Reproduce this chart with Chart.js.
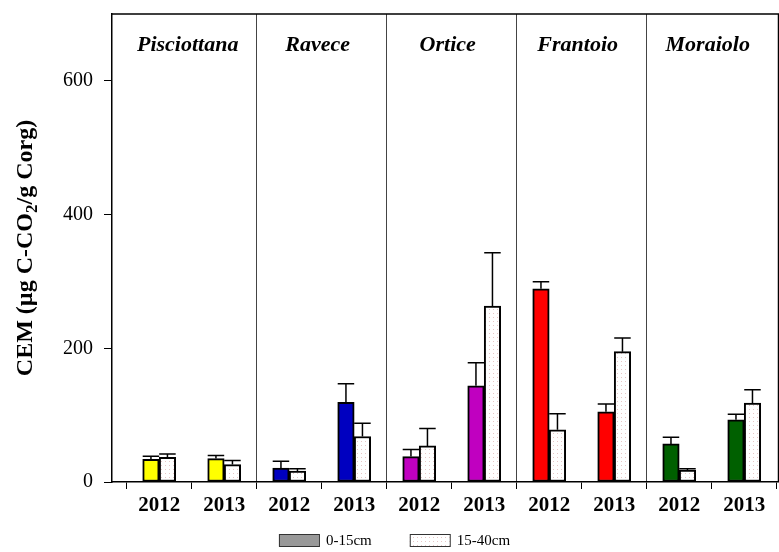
<!DOCTYPE html>
<html>
<head>
<meta charset="utf-8">
<script src="https://cdn.jsdelivr.net/npm/chart.js@4"></script>
<style>
  html, body { margin: 0; padding: 0; background: #fff; }
</style>
</head>
<body>
<canvas id="chart" width="779" height="552"></canvas>
<script>
// Cultivars, sampling years and soil depths
const cultivars = ['Pisciottana', 'Ravece', 'Ortice', 'Frantoio', 'Moraiolo'];
const years = ['2012', '2013'];
const depthLabels = ['0-15cm', '15-40cm'];
const cultivarColors = ['#ffff00', '#0000c0', '#c000c0', '#ff0000', '#006000'];

// CEM values, one per cultivar/year slot (Pisciottana 2012, Pisciottana 2013, Ravece 2012, ...)
const cemTop = [34, 35, 21, 119, 38, 144, 289, 105, 57, 93];
const cemTopErr = [4.5, 4.5, 10, 28, 10.5, 34.5, 10.5, 11.5, 10, 8.5];
const cemDeep = [37, 26, 16.5, 68, 54, 263, 78, 195, 18, 118];
const cemDeepErr = [5, 6, 3.5, 20, 26, 80, 24, 20.5, 2, 20];

const yTicks = [0, 200, 400, 600];

const serif = "'Liberation Serif', 'Times New Roman', serif";

// light dotted fill used for the deeper layer
function dotPattern() {
    const c = document.createElement('canvas');
    c.width = 4; c.height = 4;
    const g = c.getContext('2d');
    g.fillStyle = '#ffffff';
    g.fillRect(0, 0, 4, 4);
    g.fillStyle = '#e6c6c6';
    g.fillRect(1, 1, 1, 1);
    return g.createPattern(c, 'repeat');
}
const dots = dotPattern();

const slotLabels = cultivars.flatMap(() => years);
const slotColors = cultivars.flatMap((c, i) => [cultivarColors[i], cultivarColors[i]]);
const legendFills = ['#999999', dots];

const toPoints = values => values.map((v, i) => ({ x: i + 0.5, y: v }));

// upward error bars with caps
const errorBars = {
    id: 'errorBars',
    afterDatasetsDraw(chart) {
        const ctx = chart.ctx;
        const yScale = chart.scales.y;
        ctx.save();
        ctx.strokeStyle = '#000';
        ctx.lineWidth = 1.5;
        chart.data.datasets.forEach((ds, di) => {
            chart.getDatasetMeta(di).data.forEach((bar, i) => {
                const top = yScale.getPixelForValue(ds.data[i].y + ds.errors[i]);
                const half = bar.width / 2;
                ctx.beginPath();
                ctx.moveTo(bar.x, bar.y);
                ctx.lineTo(bar.x, top);
                ctx.moveTo(bar.x - half, top);
                ctx.lineTo(bar.x + half, top);
                ctx.stroke();
            });
        });
        ctx.restore();
    }
};

// frame, cultivar names, axis title and legend
const decorations = {
    id: 'decorations',
    afterDraw(chart) {
        const ctx = chart.ctx;
        const area = chart.chartArea;
        const xScale = chart.scales.x;
        ctx.save();

        ctx.strokeStyle = '#000';
        ctx.lineWidth = 1.5;
        ctx.beginPath();
        ctx.moveTo(area.left, area.top);
        ctx.lineTo(area.right - 0.5, area.top);
        ctx.lineTo(area.right - 0.5, area.bottom);
        ctx.stroke();

        ctx.fillStyle = '#000';
        ctx.font = 'italic bold 22px ' + serif;
        ctx.textAlign = 'center';
        ctx.textBaseline = 'middle';
        cultivars.forEach((name, i) => {
            ctx.fillText(name, xScale.getPixelForValue(2 * i + 1) - 4, area.top + 31);
        });

        // rotated y title with subscript
        const parts = [
            { t: 'CEM (\u00b5g C-CO', f: 'bold 24px ' + serif, dy: 0 },
            { t: '2', f: 'bold 17px ' + serif, dy: 7 },
            { t: '/g Corg)', f: 'bold 24px ' + serif, dy: 0 }
        ];
        let total = 0;
        parts.forEach(p => { ctx.font = p.f; p.w = ctx.measureText(p.t).width; total += p.w; });
        ctx.translate(26, (area.top + area.bottom) / 2);
        ctx.rotate(-Math.PI / 2);
        ctx.textAlign = 'left';
        let px = -total / 2;
        parts.forEach(p => {
            ctx.font = p.f;
            ctx.fillText(p.t, px, p.dy);
            px += p.w;
        });
        ctx.setTransform(1, 0, 0, 1, 0, 0);

        // legend
        ctx.font = '15px ' + serif;
        const boxW = 40, boxH = 12, gap = 7, itemGap = 38;
        const widths = depthLabels.map(t => ctx.measureText(t).width);
        const full = widths.reduce((a, w) => a + boxW + gap + w, 0) + itemGap * (depthLabels.length - 1);
        let lx = (chart.width - full) / 2 + 5;
        const ly = 540;
        depthLabels.forEach((t, i) => {
            ctx.fillStyle = legendFills[i];
            ctx.fillRect(lx, ly - boxH / 2, boxW, boxH);
            ctx.strokeStyle = '#333';
            ctx.lineWidth = 1;
            ctx.strokeRect(lx + 0.5, ly - boxH / 2 + 0.5, boxW, boxH);
            ctx.fillStyle = '#000';
            ctx.fillText(t, lx + boxW + gap, ly + 1);
            lx += boxW + gap + widths[i] + itemGap;
        });
        ctx.restore();
    }
};

new Chart(document.getElementById('chart'), {
    type: 'bar',
    data: {
        datasets: [
            {
                label: depthLabels[0],
                data: toPoints(cemTop),
                errors: cemTopErr,
                backgroundColor: slotColors,
                borderColor: '#000',
                borderWidth: 2,
                borderSkipped: false
            },
            {
                label: depthLabels[1],
                data: toPoints(cemDeep),
                errors: cemDeepErr,
                backgroundColor: dots,
                borderColor: '#000',
                borderWidth: 2,
                borderSkipped: false
            }
        ]
    },
    options: {
        responsive: false,
        animation: false,
        layout: { padding: { top: 14, right: 0, bottom: 30, left: 0 } },
        barThickness: 16.5,
        plugins: {
            legend: { display: false },
            tooltip: { enabled: false }
        },
        scales: {
            x: {
                type: 'linear',
                offset: false,
                min: -0.226,
                max: 10.035,
                afterBuildTicks: scale => {
                    const ticks = [];
                    for (let i = 0; i <= 20; i++) ticks.push({ value: i / 2 });
                    scale.ticks = ticks;
                },
                afterFit: scale => {
                    scale.height = 40;
                    scale.paddingLeft = 0;
                    scale.paddingRight = 0;
                },
                border: { color: '#000', width: 1.5 },
                grid: {
                    offset: false,
                    drawOnChartArea: true,
                    drawTicks: true,
                    tickLength: 7,
                    lineWidth: 1,
                    color: c => [2, 4, 6, 8].includes(c.tick && c.tick.value) ? '#444' : 'rgba(0,0,0,0)',
                    tickColor: c => (c.tick && Number.isInteger(c.tick.value)) ? '#000' : 'rgba(0,0,0,0)'
                },
                ticks: {
                    autoSkip: false,
                    maxRotation: 0,
                    minRotation: 0,
                    padding: 4,
                    color: '#000',
                    font: { family: serif, size: 21, weight: 'bold' },
                    callback: v => Number.isInteger(v) ? '' : slotLabels[Math.floor(v)]
                }
            },
            y: {
                min: 0,
                max: 700,
                afterBuildTicks: scale => { scale.ticks = yTicks.map(v => ({ value: v })); },
                afterFit: scale => {
                    scale.width = 112;
                    scale.paddingTop = 0;
                    scale.paddingBottom = 0;
                },
                border: { color: '#000', width: 1.5 },
                grid: {
                    drawOnChartArea: false,
                    drawTicks: true,
                    tickLength: 8,
                    tickColor: '#000'
                },
                ticks: {
                    padding: 11,
                    color: '#000',
                    font: { family: serif, size: 20 }
                }
            }
        }
    },
    plugins: [errorBars, decorations]
});
</script>
</body>
</html>
